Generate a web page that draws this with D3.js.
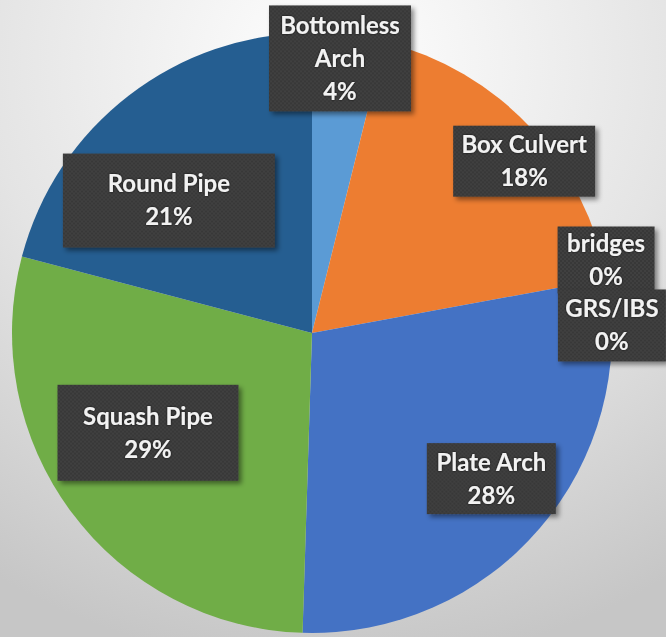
<!DOCTYPE html>
<html lang="en">
<head>
<meta charset="UTF-8">
<script src="https://cdn.jsdelivr.net/npm/d3@7/dist/d3.min.js"></script>
<style>
  html, body { margin: 0; padding: 0; background: #d9d9d9; }
  svg { display: block; }
</style>
</head>
<body>
<svg id="chart" width="666" height="637"></svg>
<script>
// --- data (shares in percent) ---
const categories = ["Bottomless Arch", "Box Culvert", "bridges", "GRS/IBS", "Plate Arch", "Squash Pipe", "Round Pipe"];
const shares = [3.9, 18.2, 0.0, 0.0, 28.4, 28.6, 20.9];
const sliceColors = ["#5B9BD5", "#ED7D31", "#A5A5A5", "#FFC000", "#4472C4", "#70AD47", "#255E91"];

// label boxes, placed relative to each slice's mid angle (Excel "best fit" look)
const labelLayout = {
  "Bottomless Arch": { da: -1.2, rf: 0.92, w: 142, h: 106, lines: ["Bottomless", "Arch"] },
  "Box Culvert":     { da: 4.2,  rf: 0.91, w: 142, h: 71,  lines: ["Box Culvert"] },
  "bridges":         { da: -3.5, rf: 1.01, w: 97,  h: 67,  lines: ["bridges"] },
  "GRS/IBS":         { da: 9.0,  rf: 1.0,  w: 108, h: 72,  lines: ["GRS/IBS"] },
  "Plate Arch":      { da: -1.6, rf: 0.77, w: 129, h: 71,  lines: ["Plate Arch"] },
  "Squash Pipe":     { da: 5.4,  rf: 0.64, w: 181, h: 96,  lines: ["Squash Pipe"] },
  "Round Pipe":      { da: -9.6, rf: 0.65, w: 212, h: 94,  lines: ["Round Pipe"] }
};

const width = 666, height = 637;
const cx = 312, cy = 333, radius = 300;
const lineGap = 33;

const svg = d3.select("#chart");
const defs = svg.append("defs");

// soft grey backdrop, bright at the top middle
const bg = defs.append("radialGradient").attr("id", "bg")
  .attr("cx", "50%").attr("cy", "10%").attr("r", "95%");
bg.append("stop").attr("offset", "0%").attr("stop-color", "#ffffff");
bg.append("stop").attr("offset", "55%").attr("stop-color", "#e4e4e4");
bg.append("stop").attr("offset", "100%").attr("stop-color", "#c6c6c6");
svg.append("rect").attr("width", width).attr("height", height).attr("fill", "url(#bg)");

// dotted texture for the label boxes
const pat = defs.append("pattern").attr("id", "dots")
  .attr("width", 4).attr("height", 4).attr("patternUnits", "userSpaceOnUse");
pat.append("rect").attr("width", 4).attr("height", 4).attr("fill", "#383838");
pat.append("circle").attr("cx", 1).attr("cy", 1).attr("r", 0.8).attr("fill", "#4a4a4a");
pat.append("circle").attr("cx", 3).attr("cy", 3).attr("r", 0.8).attr("fill", "#4a4a4a");

const shadow = defs.append("filter").attr("id", "shadow")
  .attr("x", "-20%").attr("y", "-20%").attr("width", "150%").attr("height", "150%");
shadow.append("feDropShadow").attr("dx", 3).attr("dy", 3).attr("stdDeviation", 2.5)
  .attr("flood-color", "#000").attr("flood-opacity", 0.45);

const glow = defs.append("filter").attr("id", "glow")
  .attr("x", "-10%").attr("y", "-30%").attr("width", "120%").attr("height", "160%");
glow.append("feDropShadow").attr("dx", 0).attr("dy", 0).attr("stdDeviation", 1)
  .attr("flood-color", "#000").attr("flood-opacity", 0.8);

const color = d3.scaleOrdinal().domain(categories).range(sliceColors);
const data = categories.map((c, i) => ({ name: c, value: shares[i] }));

const pie = d3.pie().value(d => d.value).sort(null);
const arc = d3.arc().innerRadius(0).outerRadius(radius);
const arcs = pie(data);

const g = svg.append("g").attr("transform", `translate(${cx},${cy})`);

g.selectAll("path.slice")
  .data(arcs)
  .join("path")
  .attr("class", "slice")
  .attr("d", arc)
  .attr("fill", d => color(d.data.name));

// --- labels ---
const fmt = d3.format(".0f");
const labels = g.selectAll("g.label")
  .data(arcs)
  .join("g")
  .attr("class", "label")
  .attr("transform", d => {
    const L = labelLayout[d.data.name];
    const a = (d.startAngle + d.endAngle) / 2 + L.da * Math.PI / 180;
    const r = radius * L.rf;
    return `translate(${r * Math.sin(a)},${-r * Math.cos(a)})`;
  });

labels.append("rect")
  .attr("x", d => -labelLayout[d.data.name].w / 2)
  .attr("y", d => -labelLayout[d.data.name].h / 2)
  .attr("width", d => labelLayout[d.data.name].w)
  .attr("height", d => labelLayout[d.data.name].h)
  .attr("fill", "url(#dots)")
  .attr("filter", "url(#shadow)");

labels.each(function(d) {
  const L = labelLayout[d.data.name];
  const lines = L.lines.concat([fmt(d.data.value) + "%"]);
  const top = -(lines.length - 1) * lineGap / 2;
  d3.select(this).selectAll("text")
    .data(lines)
    .join("text")
    .attr("x", 0)
    .attr("y", (t, i) => top + i * lineGap)
    .attr("dy", "0.35em")
    .attr("text-anchor", "middle")
    .attr("font-family", "Lato, 'Open Sans', sans-serif")
    .attr("font-weight", 700)
    .attr("font-size", 24)
    .attr("fill", "#f2f2f2")
    .attr("filter", "url(#glow)")
    .text(t => t);
});
</script>
</body>
</html>
